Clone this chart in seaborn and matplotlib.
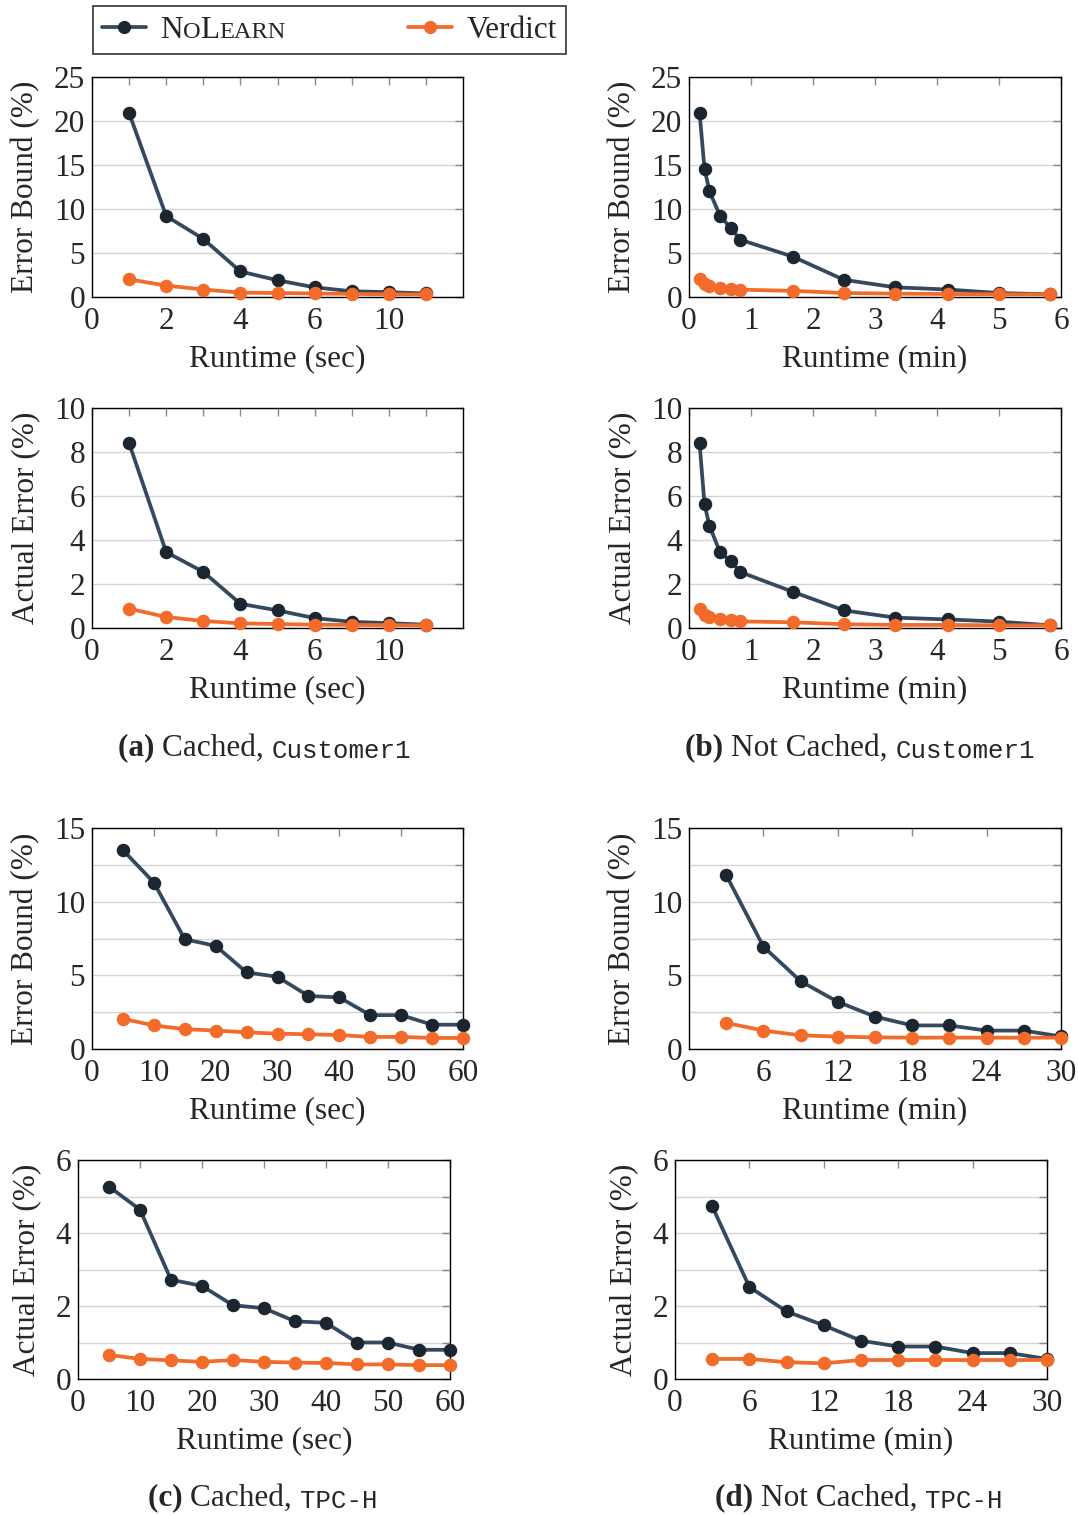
import matplotlib
matplotlib.use("Agg")
import matplotlib.pyplot as plt
import pandas as pd
import seaborn as sns
from matplotlib.lines import Line2D
from matplotlib.text import Annotation
from matplotlib.ticker import FixedLocator, MultipleLocator

# ---- data ----
# (a) Cached, Customer1 -- points sit on equally spaced positions 1..9
c1_cached_pos = [1, 2, 3, 4, 5, 6, 7, 8, 9]
c1_cached_ticks = [0, 2, 4, 6, 8]
c1_cached_ticklabels = ["0", "2", "4", "6", "10"]
c1_cached_nolearn_bound = [20.9, 9.2, 6.6, 2.9, 1.9, 1.1, 0.65, 0.55, 0.4]
c1_cached_verdict_bound = [2.0, 1.3, 0.85, 0.5, 0.45, 0.4, 0.35, 0.3, 0.3]
c1_cached_nolearn_actual = [8.4, 3.45, 2.55, 1.1, 0.8, 0.45, 0.28, 0.22, 0.15]
c1_cached_verdict_actual = [0.88, 0.5, 0.32, 0.21, 0.18, 0.15, 0.14, 0.13, 0.12]

# (b) Not Cached, Customer1 (minutes)
c1_nc_min = [0.17, 0.25, 0.33, 0.5, 0.67, 0.83, 1.67, 2.5, 3.33, 4.17, 5.0, 5.83]
c1_nc_nolearn_bound = [20.95, 14.6, 12.0, 9.25, 7.85, 6.5, 4.6, 1.95, 1.1, 0.85, 0.45, 0.3]
c1_nc_verdict_bound = [2.0, 1.5, 1.25, 1.0, 0.9, 0.83, 0.7, 0.45, 0.38, 0.34, 0.3, 0.3]
c1_nc_nolearn_actual = [8.4, 5.63, 4.64, 3.45, 3.04, 2.54, 1.65, 0.8, 0.47, 0.39, 0.29, 0.12]
c1_nc_verdict_actual = [0.88, 0.6, 0.5, 0.39, 0.36, 0.3, 0.26, 0.17, 0.14, 0.14, 0.12, 0.12]

# (c) Cached, TPC-H (seconds)
tpch_cached_sec = [5, 10, 15, 20, 25, 30, 35, 40, 45, 50, 55, 60]
tpch_cached_nolearn_bound = [13.5, 11.3, 7.45, 7.0, 5.2, 4.9, 3.6, 3.5, 2.3, 2.3, 1.65, 1.65]
tpch_cached_verdict_bound = [2.05, 1.6, 1.35, 1.25, 1.13, 1.04, 1.0, 0.95, 0.82, 0.82, 0.75, 0.75]
tpch_cached_nolearn_actual = [5.27, 4.64, 2.72, 2.55, 2.02, 1.94, 1.58, 1.54, 1.0, 1.0, 0.8, 0.8]
tpch_cached_verdict_actual = [0.66, 0.55, 0.51, 0.47, 0.52, 0.47, 0.45, 0.44, 0.4, 0.4, 0.38, 0.38]

# (d) Not Cached, TPC-H (minutes)
tpch_nc_min = [3, 6, 9, 12, 15, 18, 21, 24, 27, 30]
tpch_nc_nolearn_bound = [11.8, 6.95, 4.6, 3.2, 2.2, 1.6, 1.6, 1.25, 1.25, 0.85]
tpch_nc_verdict_bound = [1.77, 1.25, 0.93, 0.84, 0.79, 0.77, 0.77, 0.77, 0.77, 0.77]
tpch_nc_nolearn_actual = [4.73, 2.52, 1.85, 1.47, 1.05, 0.89, 0.89, 0.71, 0.71, 0.55]
tpch_nc_verdict_actual = [0.55, 0.55, 0.46, 0.43, 0.52, 0.52, 0.52, 0.52, 0.52, 0.52]

methods = ["NoLearn", "Verdict"]
line_colors = {"NoLearn": "#34495e", "Verdict": "#f26b2a"}
face_colors = {"NoLearn": "#1b2631", "Verdict": "#f26b2a"}

W, H = 1078, 1515
FS = 22.5

sns.set_theme(style="white")
plt.rcParams["font.family"] = ["Liberation Serif", "DejaVu Serif"]

fig = plt.figure(figsize=(W / 100, H / 100), dpi=100)


def add_axes(left, top, right, bottom):
    return fig.add_axes([left / W, 1 - bottom / H, (right - left) / W, (bottom - top) / H])


def draw_panel(ax, x, nolearn, verdict, ylim, ymajor, yminor, ylabel, xlabel,
               xlim, xticks, xticklabels, xminor):
    df = pd.DataFrame({
        "runtime": list(x) * 2,
        "error": list(nolearn) + list(verdict),
        "method": ["NoLearn"] * len(x) + ["Verdict"] * len(x),
    })
    for z, m in enumerate(methods):
        sns.lineplot(data=df[df["method"] == m], x="runtime", y="error",
                     estimator=None, color=line_colors[m], linewidth=2.7,
                     marker="o", markersize=8.5, markerfacecolor=face_colors[m],
                     markeredgecolor=face_colors[m], markeredgewidth=1.2,
                     clip_on=False, zorder=3 + z, legend=False, ax=ax)
    ax.set_xlim(*xlim)
    ax.set_ylim(*ylim)
    ax.xaxis.set_major_locator(FixedLocator(xticks))
    ax.set_xticklabels(xticklabels)
    if xminor is not None:
        ax.xaxis.set_minor_locator(FixedLocator(xminor))
    ax.yaxis.set_major_locator(MultipleLocator(ymajor))
    ax.yaxis.set_minor_locator(MultipleLocator(yminor))
    ax.yaxis.grid(True, which="both", color="#d4d4d4", linewidth=1.0)
    ax.xaxis.grid(False)
    ax.set_axisbelow(True)
    ax.tick_params(axis="x", which="both", direction="in", top=True, bottom=False,
                   labelbottom=True, length=6, width=1, color="#8a8a8a",
                   labelsize=FS, pad=7)
    ax.tick_params(axis="y", which="both", direction="in", left=False, right=True,
                   labelleft=True, length=6, width=1, color="#8a8a8a",
                   labelsize=FS, pad=5)
    for s in ax.spines.values():
        s.set_color("black")
        s.set_linewidth(1.0)
    ax.set_xlabel(xlabel, fontsize=FS, labelpad=6)
    ax.set_ylabel(ylabel, fontsize=FS, labelpad=10)


# columns and rows in pixel space of the reference
LX = (92, 463)
RX = (689, 1061)
LX4 = (78, 450)
RX4 = (675, 1047)

sec_a = dict(xlim=(0, 10), xticks=c1_cached_ticks, xticklabels=c1_cached_ticklabels,
             xminor=[1, 3, 5, 7, 9])
min_b = dict(xlim=(0, 6), xticks=[0, 1, 2, 3, 4, 5, 6],
             xticklabels=["0", "1", "2", "3", "4", "5", "6"], xminor=None)
sec_c = dict(xlim=(0, 60), xticks=[0, 10, 20, 30, 40, 50, 60],
             xticklabels=["0", "10", "20", "30", "40", "50", "60"], xminor=None)
min_d = dict(xlim=(0, 30), xticks=[0, 6, 12, 18, 24, 30],
             xticklabels=["0", "6", "12", "18", "24", "30"], xminor=None)

ax = add_axes(LX[0], 77, LX[1], 297)
draw_panel(ax, c1_cached_pos, c1_cached_nolearn_bound, c1_cached_verdict_bound,
           (0, 25), 5, 5, "Error Bound (%)", "Runtime (sec)", **sec_a)
ax = add_axes(RX[0], 77, RX[1], 297)
draw_panel(ax, c1_nc_min, c1_nc_nolearn_bound, c1_nc_verdict_bound,
           (0, 25), 5, 5, "Error Bound (%)", "Runtime (min)", **min_b)
ax = add_axes(LX[0], 408, LX[1], 628)
draw_panel(ax, c1_cached_pos, c1_cached_nolearn_actual, c1_cached_verdict_actual,
           (0, 10), 2, 2, "Actual Error (%)", "Runtime (sec)", **sec_a)
ax = add_axes(RX[0], 408, RX[1], 628)
draw_panel(ax, c1_nc_min, c1_nc_nolearn_actual, c1_nc_verdict_actual,
           (0, 10), 2, 2, "Actual Error (%)", "Runtime (min)", **min_b)
ax = add_axes(LX[0], 828, LX[1], 1049)
draw_panel(ax, tpch_cached_sec, tpch_cached_nolearn_bound, tpch_cached_verdict_bound,
           (0, 15), 5, 2.5, "Error Bound (%)", "Runtime (sec)", **sec_c)
ax = add_axes(RX[0], 828, RX[1], 1049)
draw_panel(ax, tpch_nc_min, tpch_nc_nolearn_bound, tpch_nc_verdict_bound,
           (0, 15), 5, 2.5, "Error Bound (%)", "Runtime (min)", **min_d)
ax = add_axes(LX4[0], 1160, LX4[1], 1379)
draw_panel(ax, tpch_cached_sec, tpch_cached_nolearn_actual, tpch_cached_verdict_actual,
           (0, 6), 2, 1, "Actual Error (%)", "Runtime (sec)", **sec_c)
ax = add_axes(RX4[0], 1160, RX4[1], 1379)
draw_panel(ax, tpch_nc_min, tpch_nc_nolearn_actual, tpch_nc_verdict_actual,
           (0, 6), 2, 1, "Actual Error (%)", "Runtime (min)", **min_d)


def chain(first, pieces):
    prev = first
    for text, kw in pieces:
        a = Annotation(text, xy=(1, 0), xycoords=(prev, first),
                       xytext=(0, kw.pop("dy", 0)), textcoords="offset points",
                       ha="left", va="bottom", zorder=10, **kw)
        fig.add_artist(a)
        prev = a


# captions
captions = [
    (118, 748, "(a)", "Cached, ", "Customer1"),
    (685, 748, "(b)", "Not Cached, ", "Customer1"),
    (148, 1498, "(c)", "Cached, ", "TPC-H"),
    (715, 1498, "(d)", "Not Cached, ", "TPC-H"),
]
for cx, cy, tag, word, name in captions:
    t = fig.text(cx / W, 1 - cy / H, tag + " ", fontsize=FS, fontweight="bold",
                 ha="left", va="center")
    chain(t, [(word, dict(fontsize=FS)),
              (name, dict(fontsize=FS - 4, family=["Liberation Mono", "DejaVu Sans Mono"]))])

# legend
handles = [Line2D([], [], color=line_colors[m], linewidth=2.7, marker="o", markersize=8.5,
                  markerfacecolor=face_colors[m], markeredgecolor=face_colors[m])
           for m in methods]
leg = fig.legend(handles, ["N", "Verdict"], loc="center",
                 bbox_to_anchor=(93 / W, 1 - 53 / H, 473 / W, 46 / H), mode="expand",
                 ncol=2, frameon=True, fancybox=False, edgecolor="black",
                 fontsize=FS, handlelength=1.4, handletextpad=0.45, borderaxespad=0,
                 borderpad=0.3)
leg.get_frame().set_linewidth(1.2)
small = FS * 0.78
dy = 0.217 * (FS - small)
chain(leg.get_texts()[0], [("O", dict(fontsize=small, dy=dy)),
                           ("L", dict(fontsize=FS)),
                           ("EARN", dict(fontsize=small, dy=dy))])

fig.canvas.draw()
fig.savefig("out.png", dpi=100)
